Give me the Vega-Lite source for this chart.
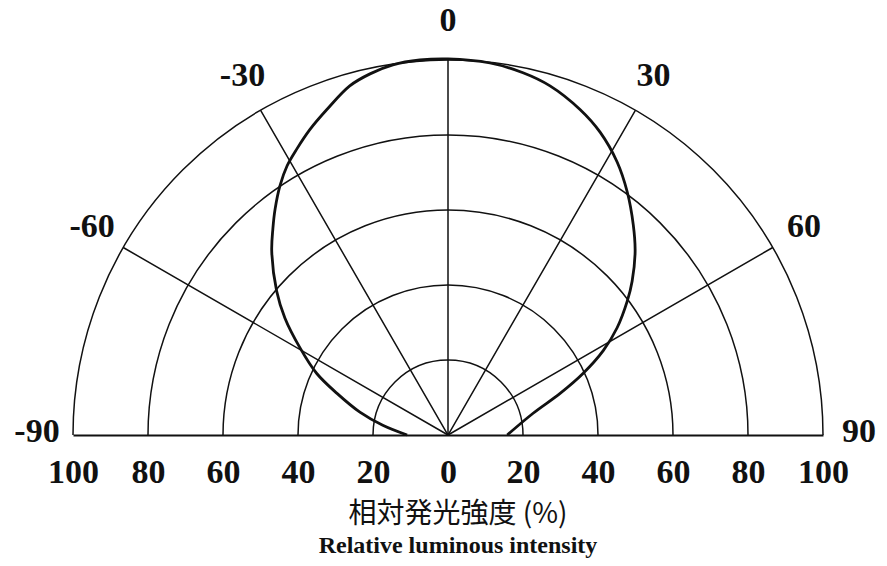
{
  "$schema": "https://vega.github.io/schema/vega-lite/v6.json",
  "width": 750,
  "height": 375,
  "autosize": "none",
  "padding": {"left": 73, "top": 60, "right": 64, "bottom": 131},
  "background": "white",
  "config": {
    "view": {"stroke": null},
    "font": "Liberation Serif",
    "axisX": {
      "labelExpr": "'' + abs(datum.value)",
      "title": null,
      "ticks": false,
      "grid": false,
      "domainColor": "#111",
      "domainWidth": 2,
      "labelFont": "Liberation Serif",
      "labelFontWeight": "bold",
      "labelFontSize": 34,
      "labelColor": "#111",
      "labelPadding": 20,
      "labelFlush": false,
      "labelOverlap": false,
      "labelBound": false
    }
  },
  "title": {
    "text": "相対発光強度 (%)",
    "subtitle": "Relative luminous intensity",
    "orient": "bottom",
    "anchor": "middle",
    "frame": "group",
    "dx": 10,
    "offset": 12,
    "font": "Noto Sans CJK JP",
    "fontSize": 28,
    "fontWeight": "normal",
    "color": "#111",
    "subtitleFont": "Liberation Serif",
    "subtitleFontSize": 24,
    "subtitleFontWeight": "bold",
    "subtitleColor": "#111",
    "subtitlePadding": 5
  },
  "datasets": {
    "rings": [{"r": 20}, {"r": 40}, {"r": 60}, {"r": 80}, {"r": 100}],
    "spokes": [{"angle": -60}, {"angle": -30}, {"angle": 0}, {"angle": 30}, {"angle": 60}],
    "angle_labels": [
      {"angle": -90, "label": "-90"},
      {"angle": -60, "label": "-60"},
      {"angle": -30, "label": "-30"},
      {"angle": 0, "label": "0"},
      {"angle": 30, "label": "30"},
      {"angle": 60, "label": "60"},
      {"angle": 90, "label": "90"}
    ],
    "pattern": [
      {"h": -10.9, "v": 0},
      {"h": -17.4, "v": 2.6},
      {"h": -23.5, "v": 6.1},
      {"h": -29.6, "v": 11.1},
      {"h": -35.0, "v": 16.4},
      {"h": -39.5, "v": 23.3},
      {"h": -43.5, "v": 31.2},
      {"h": -45.7, "v": 38.4},
      {"h": -47.0, "v": 48.9},
      {"h": -46.7, "v": 55.0},
      {"h": -46.1, "v": 60.3},
      {"h": -44.8, "v": 66.5},
      {"h": -42.9, "v": 71.8},
      {"h": -40.3, "v": 76.3},
      {"h": -36.8, "v": 81.5},
      {"h": -32.3, "v": 86.8},
      {"h": -26.2, "v": 93.1},
      {"h": -20.8, "v": 96.3},
      {"h": -14.7, "v": 98.7},
      {"h": -7.5, "v": 100.0},
      {"h": 0, "v": 100.3},
      {"h": 11.2, "v": 99.2},
      {"h": 20.0, "v": 96.6},
      {"h": 27.2, "v": 93.1},
      {"h": 35.2, "v": 86.8},
      {"h": 40.6, "v": 80.7},
      {"h": 45.1, "v": 72.8},
      {"h": 47.8, "v": 64.8},
      {"h": 49.4, "v": 56.1},
      {"h": 49.9, "v": 48.9},
      {"h": 49.1, "v": 41.0},
      {"h": 47.8, "v": 35.7},
      {"h": 45.1, "v": 28.6},
      {"h": 41.4, "v": 22.5},
      {"h": 36.0, "v": 16.4},
      {"h": 29.9, "v": 11.1},
      {"h": 22.7, "v": 5.8},
      {"h": 15.8, "v": 0}
    ]
  },
  "layer": [
    {
      "data": {"name": "rings"},
      "mark": {"type": "arc", "filled": false, "stroke": "#111", "strokeWidth": 1.5},
      "encoding": {
        "x": {"datum": 0, "type": "quantitative", "scale": {"domain": [-100, 100], "nice": false}, "axis": {"values": [-100, -80, -60, -40, -20, 0, 20, 40, 60, 80, 100]}},
        "y": {"datum": 0, "type": "quantitative", "scale": {"domain": [0, 100], "nice": false}, "axis": null},
        "theta": {"datum": -90, "type": "quantitative", "scale": {"domain": [-180, 180], "range": [-3.14159265, 3.14159265]}},
        "theta2": {"datum": 90},
        "radius": {"field": "r", "type": "quantitative", "scale": {"type": "linear", "domain": [0, 100], "range": [0, 375], "zero": true}},
        "radius2": {"field": "r"}
      }
    },
    {
      "data": {"name": "spokes"},
      "mark": {"type": "arc", "filled": false, "stroke": "#111", "strokeWidth": 1.5},
      "encoding": {
        "x": {"datum": 0, "type": "quantitative", "scale": {"domain": [-100, 100], "nice": false}, "axis": {"values": [-100, -80, -60, -40, -20, 0, 20, 40, 60, 80, 100]}},
        "y": {"datum": 0, "type": "quantitative", "scale": {"domain": [0, 100], "nice": false}, "axis": null},
        "theta": {"field": "angle", "type": "quantitative", "stack": null, "scale": {"domain": [-180, 180], "range": [-3.14159265, 3.14159265]}},
        "theta2": {"field": "angle"},
        "radius": {"datum": 100, "type": "quantitative", "scale": {"type": "linear", "domain": [0, 100], "range": [0, 375], "zero": true}},
        "radius2": {"datum": 0}
      }
    },
    {
      "data": {"name": "pattern"},
      "mark": {"type": "line", "color": "#111", "strokeWidth": 2.8, "interpolate": "catmull-rom"},
      "encoding": {
        "x": {"field": "h", "type": "quantitative", "scale": {"domain": [-100, 100], "nice": false}, "axis": {"values": [-100, -80, -60, -40, -20, 0, 20, 40, 60, 80, 100]}},
        "y": {"field": "v", "type": "quantitative", "scale": {"domain": [0, 100], "nice": false}, "axis": null},
        "order": {"value": null}
      }
    },
    {
      "data": {"name": "angle_labels"},
      "mark": {"type": "text", "font": "Liberation Serif", "fontWeight": "bold", "fontSize": 34, "radiusOffset": 36, "dy": -3, "align": "center", "baseline": "middle", "color": "#111"},
      "encoding": {
        "x": {"datum": 0, "type": "quantitative", "scale": {"domain": [-100, 100], "nice": false}, "axis": {"values": [-100, -80, -60, -40, -20, 0, 20, 40, 60, 80, 100]}},
        "y": {"datum": 0, "type": "quantitative", "scale": {"domain": [0, 100], "nice": false}, "axis": null},
        "theta": {"field": "angle", "type": "quantitative", "stack": null, "scale": {"domain": [-180, 180], "range": [-3.14159265, 3.14159265]}},
        "radius": {"datum": 100, "type": "quantitative", "scale": {"type": "linear", "domain": [0, 100], "range": [0, 375], "zero": true}},
        "text": {"field": "label"}
      }
    }
  ]
}
